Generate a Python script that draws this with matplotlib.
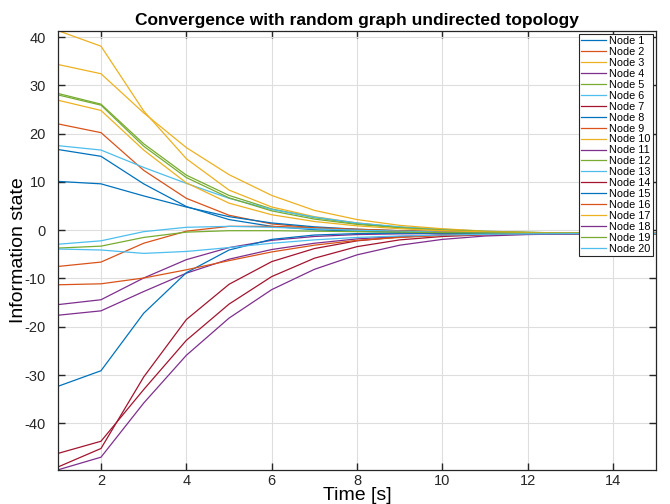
import matplotlib
matplotlib.use("Agg")
import matplotlib.pyplot as plt

plt.rcParams['font.family'] = ['Liberation Sans', 'DejaVu Sans']
plt.rcParams['axes.unicode_minus'] = False

# time steps
t = list(range(1, 16))

# MATLAB default colour order
colors = ['#0072BD', '#D95319', '#EDB120', '#7E2F8E', '#77AC30', '#4DBEEE', '#A2142F']

# information state per node
node1 = [16.7, 15.3, 9.6, 4.9, 2.2, 0.8, 0.1, -0.2, -0.4, -0.5, -0.6, -0.65, -0.68, -0.69, -0.7]
node2 = [22.0, 20.2, 12.4, 6.6, 3.1, 1.3, 0.5, 0.1, -0.2, -0.4, -0.5, -0.6, -0.65, -0.68, -0.7]
node3 = [41.3, 38.1, 24.7, 14.8, 8.3, 4.8, 2.8, 1.5, 0.6, 0.1, -0.3, -0.5, -0.6, -0.65, -0.68]
node4 = [-15.4, -14.4, -9.9, -6.1, -3.6, -2.1, -1.3, -0.9, -0.75, -0.7, -0.7, -0.7, -0.7, -0.7, -0.7]
node5 = [28.3, 26.1, 17.9, 11.4, 7.2, 4.4, 2.6, 1.4, 0.6, 0.1, -0.25, -0.45, -0.58, -0.64, -0.68]
node6 = [17.5, 16.6, 13.0, 9.7, 6.6, 4.3, 2.7, 1.5, 0.7, 0.2, -0.2, -0.45, -0.58, -0.64, -0.68]
node7 = [-46.2, -43.7, -33.0, -22.8, -15.3, -9.6, -5.8, -3.4, -2.0, -1.3, -0.95, -0.8, -0.74, -0.71, -0.7]
node8 = [10.1, 9.6, 7.1, 4.8, 2.8, 1.5, 0.7, 0.2, -0.1, -0.3, -0.45, -0.55, -0.62, -0.66, -0.69]
node9 = [-7.5, -6.6, -2.7, -0.2, 0.8, 0.8, 0.5, 0.2, -0.1, -0.3, -0.45, -0.55, -0.62, -0.66, -0.69]
node10 = [34.3, 32.4, 24.3, 17.1, 11.5, 7.2, 4.1, 2.2, 1.0, 0.3, -0.2, -0.45, -0.6, -0.65, -0.68]
node11 = [-17.6, -16.7, -12.7, -8.9, -6.0, -4.0, -2.7, -1.8, -1.3, -1.0, -0.85, -0.77, -0.73, -0.71, -0.7]
node12 = [28.0, 25.9, 17.4, 10.9, 6.7, 4.0, 2.3, 1.2, 0.5, 0.05, -0.28, -0.47, -0.59, -0.65, -0.68]
node13 = [-2.9, -2.2, -0.3, 0.6, 0.8, 0.6, 0.3, 0.0, -0.2, -0.4, -0.5, -0.6, -0.65, -0.68, -0.7]
node14 = [-49.0, -45.2, -30.4, -18.5, -11.2, -6.5, -3.8, -2.2, -1.4, -1.0, -0.8, -0.74, -0.72, -0.71, -0.7]
node15 = [-32.3, -29.1, -17.2, -8.8, -4.1, -1.9, -1.0, -0.7, -0.6, -0.6, -0.62, -0.65, -0.68, -0.69, -0.7]
node16 = [-11.3, -11.1, -9.9, -8.2, -6.3, -4.5, -3.1, -2.1, -1.5, -1.1, -0.9, -0.8, -0.74, -0.71, -0.7]
node17 = [26.9, 24.8, 16.6, 9.8, 5.6, 3.2, 1.8, 0.9, 0.3, -0.1, -0.35, -0.5, -0.6, -0.65, -0.68]
node18 = [-49.6, -47.0, -35.8, -25.9, -18.2, -12.3, -8.1, -5.1, -3.1, -1.9, -1.2, -0.9, -0.78, -0.72, -0.7]
node19 = [-3.7, -3.3, -1.5, -0.4, -0.1, -0.1, -0.2, -0.3, -0.4, -0.5, -0.58, -0.63, -0.66, -0.68, -0.7]
node20 = [-3.9, -4.1, -4.8, -4.4, -3.6, -2.7, -2.0, -1.5, -1.2, -1.0, -0.85, -0.77, -0.73, -0.71, -0.7]

nodes = [node1, node2, node3, node4, node5, node6, node7, node8, node9, node10,
         node11, node12, node13, node14, node15, node16, node17, node18, node19, node20]

fig = plt.figure(figsize=(6.7, 5.04), dpi=100)
ax = fig.add_axes([0.087, 0.067, 0.892, 0.872])

for i, y in enumerate(nodes):
    ax.plot(t, y, color=colors[i % 7], lw=0.9, label='Node %d' % (i + 1))

ax.set_xlim(1, 15)
ax.set_ylim(-49.7, 41.3)
ax.set_xticks(range(2, 15, 2))
ax.set_yticks(range(-40, 41, 10))
ax.grid(True, color='#dedede', lw=0.8)
ax.set_axisbelow(True)
ax.tick_params(direction='in', top=True, right=True, labelsize=10.5,
               colors='#262626', length=5, width=1)
ax.tick_params(axis='x', pad=3)
ax.tick_params(axis='y', pad=9)
for s in ax.spines.values():
    s.set_color('#262626')
    s.set_linewidth(0.9)

ax.set_title('Convergence with random graph undirected topology',
             fontsize=12.5, fontweight='bold', pad=4)
ax.set_xlabel('Time [s]', fontsize=14, labelpad=-1)
ax.set_ylabel('Information state', fontsize=14, labelpad=-1.5)

leg = ax.legend(loc='upper right', fontsize=7.8, labelspacing=0.085,
                handlelength=2.3, handletextpad=0.25, borderpad=0.2,
                borderaxespad=0.3, fancybox=False, framealpha=1)
leg.get_frame().set_edgecolor('#262626')
leg.get_frame().set_linewidth(0.8)

fig.savefig('out.png', dpi=100)
